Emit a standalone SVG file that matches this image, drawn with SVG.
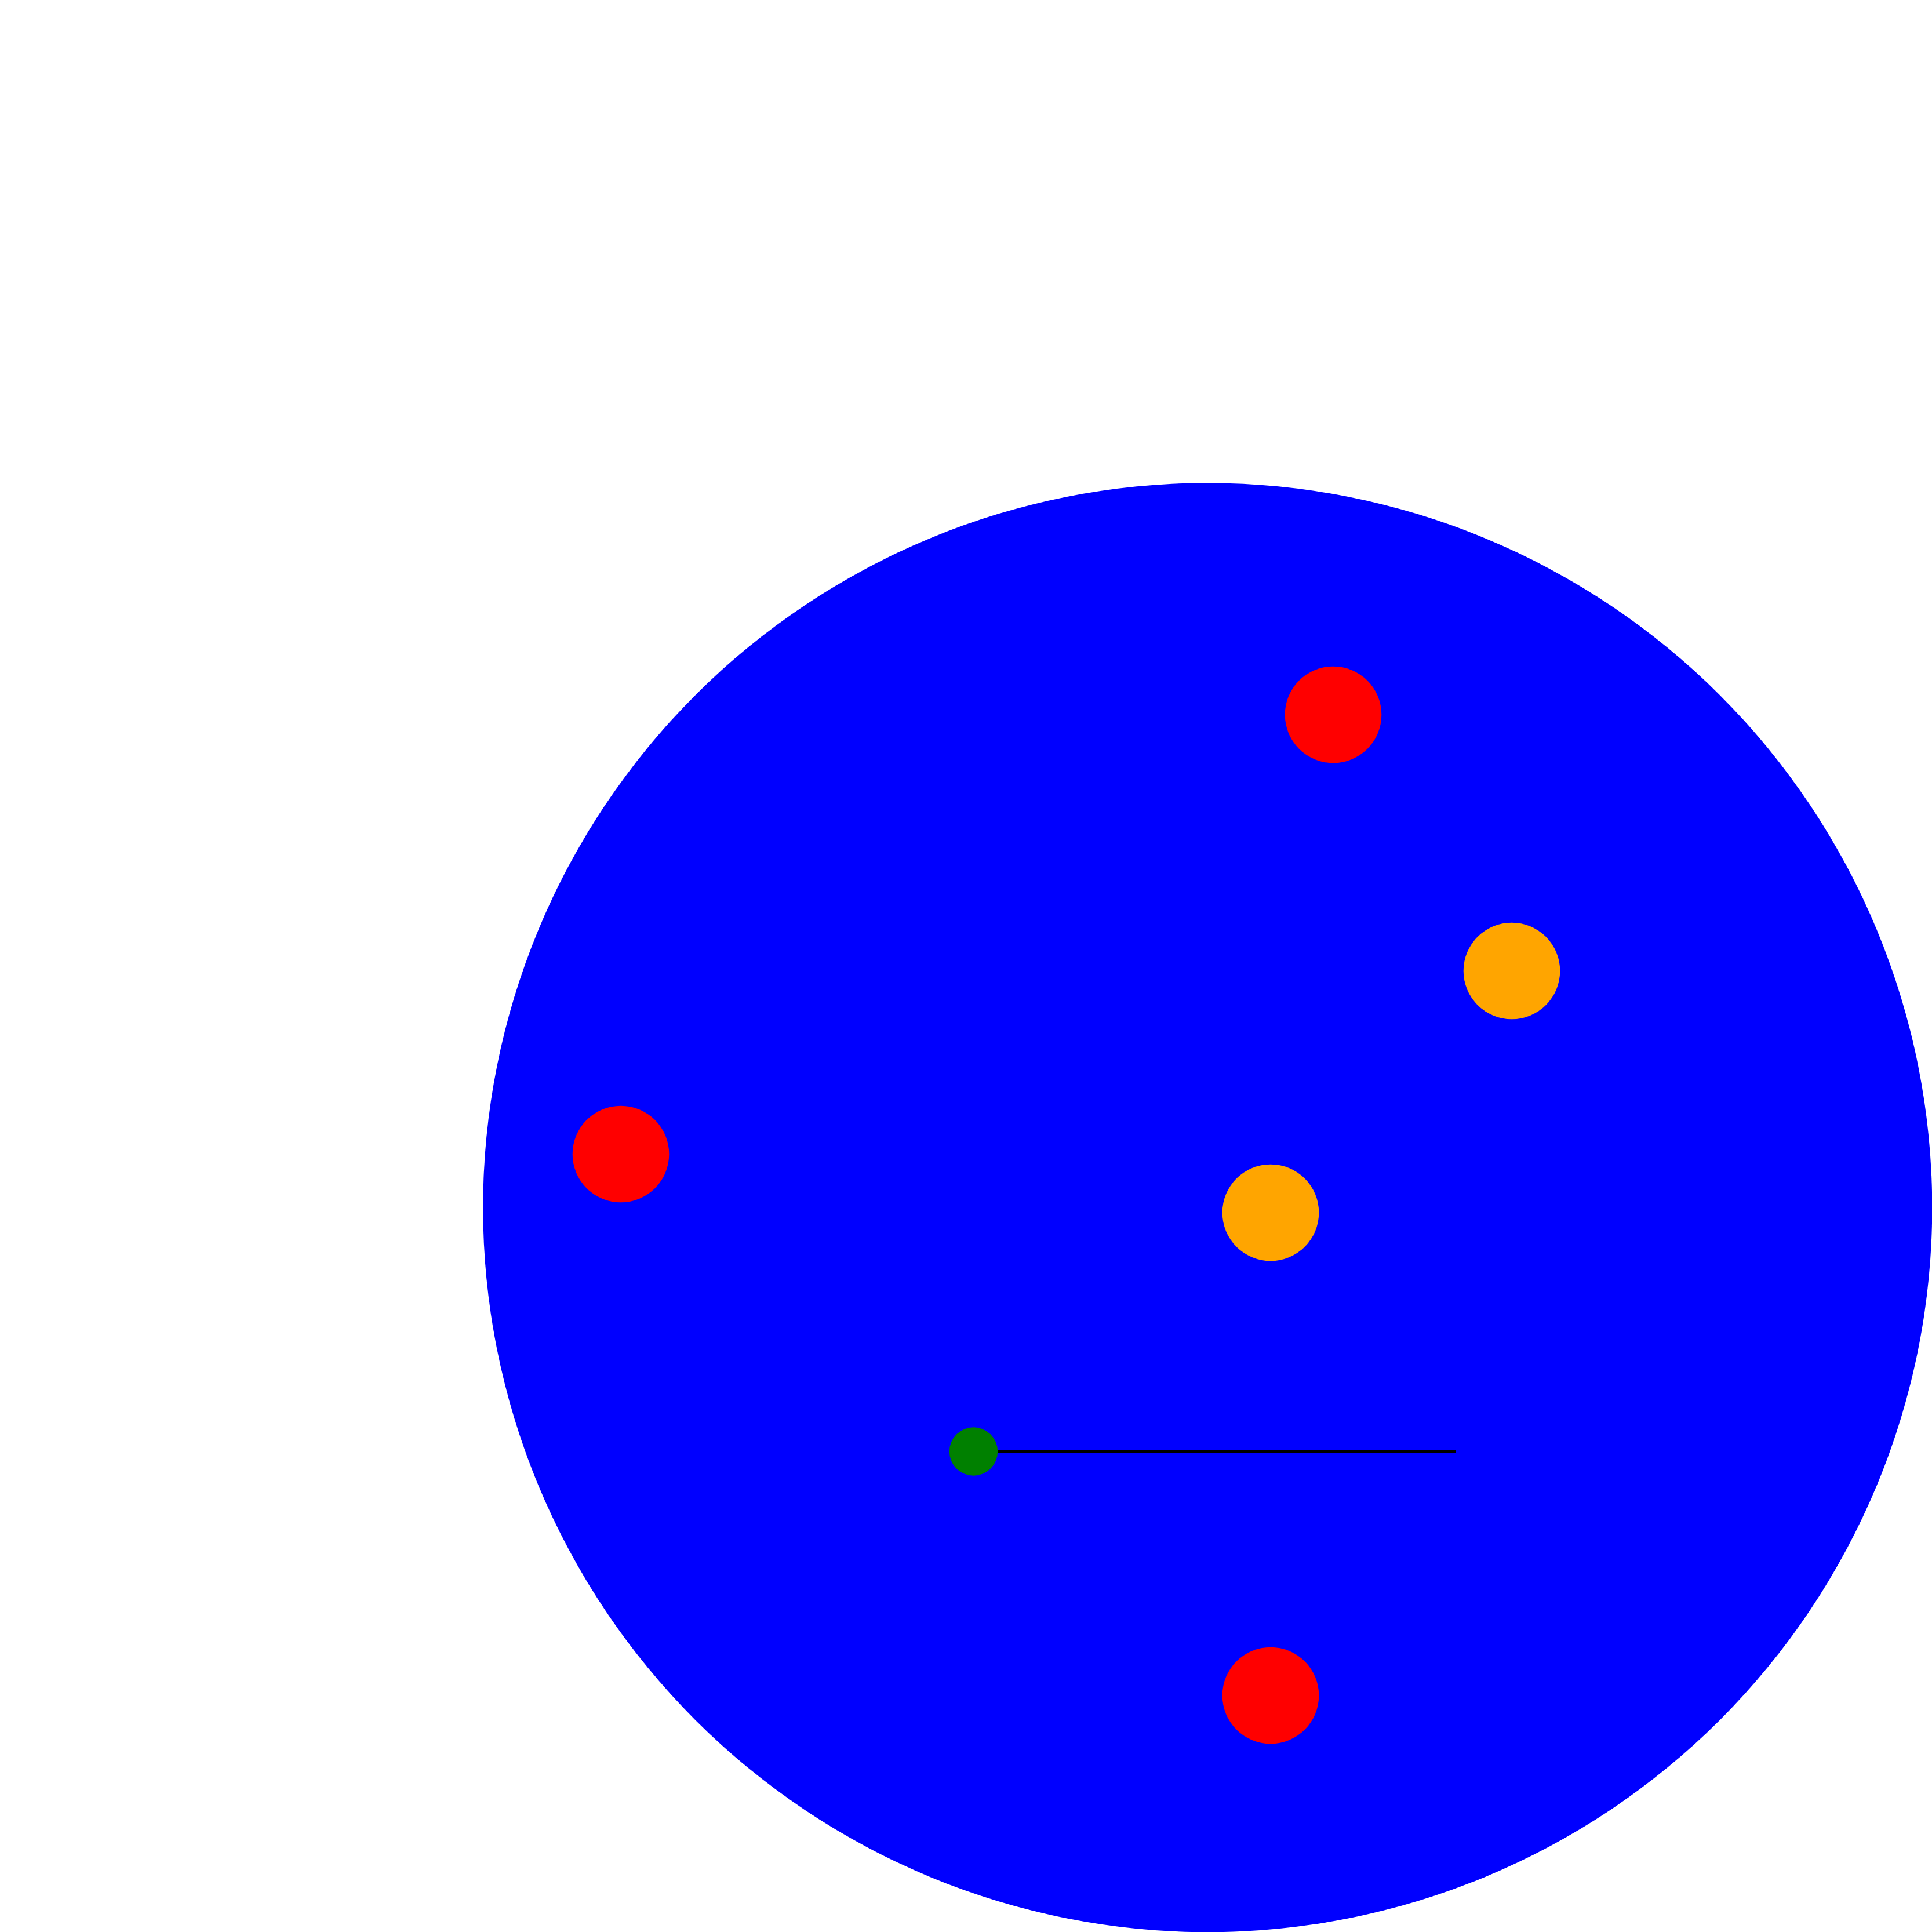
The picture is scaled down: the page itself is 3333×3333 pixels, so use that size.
<svg xmlns="http://www.w3.org/2000/svg" width="3333" height="3333" viewBox="0 0 3333 3333">
<style>
.red{fill:#ff0000}
.orange{fill:#ffa500}
.green{fill:#008000}
.conn{stroke:#000000;stroke-width:4;fill:none}
</style>
<rect width="3333" height="3333" fill="#ffffff"/>
<g id="big-circle"><circle cx="2083.3" cy="2083.3" r="1250" fill="#0000ff"/></g>
<g id="connectors"><line class="conn" x1="1680" y1="2504" x2="2512" y2="2504"/></g>
<g id="red-top"><circle class="red" cx="2300" cy="1233" r="83.3"/></g>
<g id="orange-right"><circle class="orange" cx="2608" cy="1675" r="83.3"/></g>
<g id="red-left"><circle class="red" cx="1071" cy="1991" r="83.3"/></g>
<g id="orange-center"><circle class="orange" cx="2192" cy="2092" r="83.3"/></g>
<g id="green"><circle class="green" cx="1679.5" cy="2504" r="41.7"/></g>
<g id="red-bottom"><circle class="red" cx="2192" cy="2925" r="83.3"/></g>
</svg>
